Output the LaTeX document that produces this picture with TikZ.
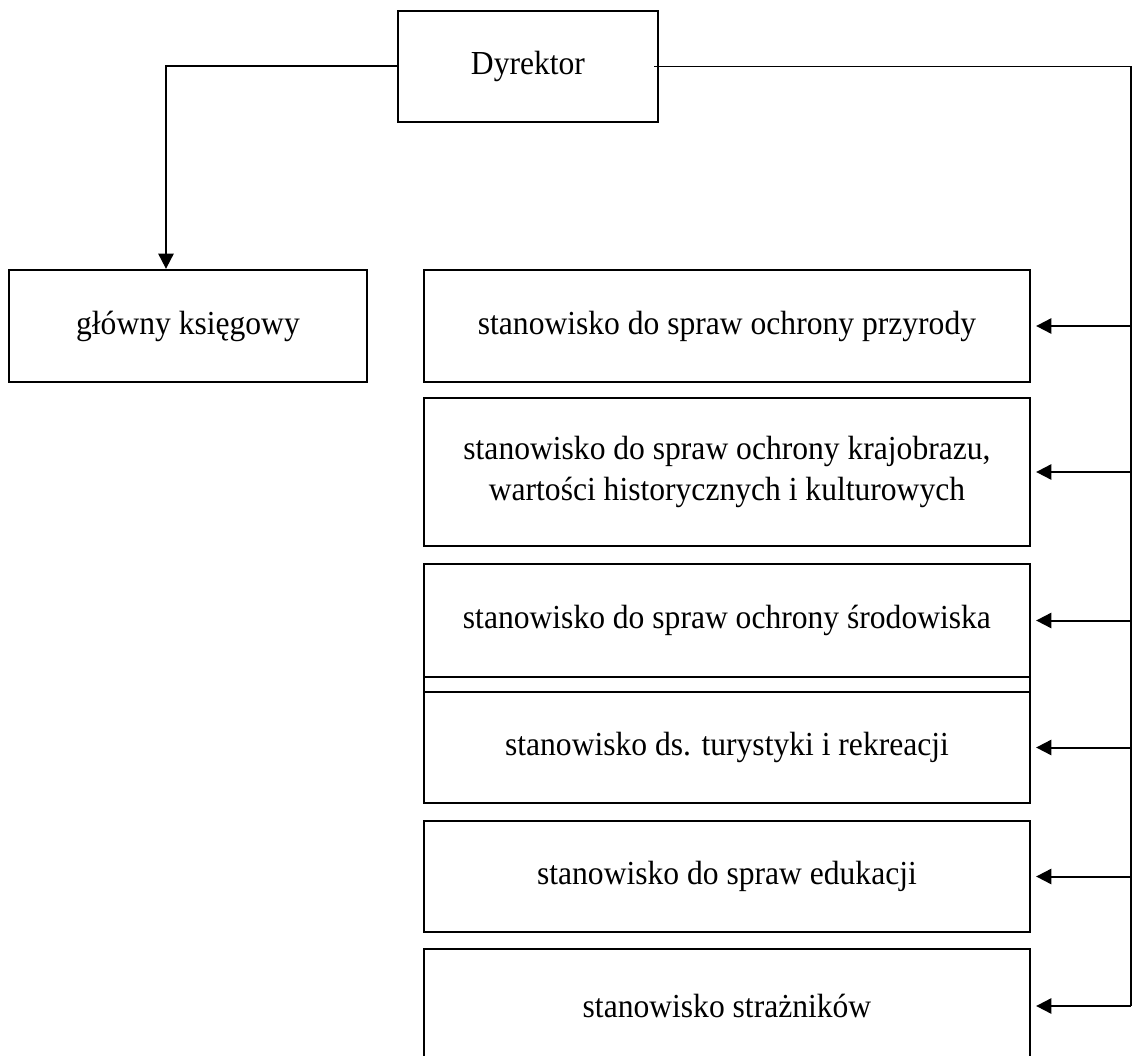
\documentclass[tikz,border=0pt]{standalone}
\usepackage{fontspec}
\setmainfont{Liberation Serif}[FakeStretch=0.94]
\usetikzlibrary{arrows.meta}
\begin{document}
\begin{tikzpicture}[x=0.75pt,y=-0.75pt,
  box/.style={draw,line width=1.7pt,inner sep=0pt,align=center,
    font=\fontsize{25.2}{31}\selectfont,minimum width=454.5pt},
  conn/.style={line width=1.5pt},
  arr/.style={conn,-{Triangle[length=11.5pt,width=11.5pt]}}]
\useasboundingbox (0,0) rectangle (1133,1056);
\node[box,minimum width=195pt,minimum height=83.25pt] (dyr) at (528,66.5) {Dyrektor};
\node[box,minimum width=268.5pt,minimum height=84pt] (gk) at (188,326) {główny księgowy};
\node[box,minimum height=84pt] (b1) at (727,326) {stanowisko do spraw ochrony przyrody};
\node[box,minimum height=111pt] (b2) at (727,472) {stanowisko do spraw ochrony krajobrazu,\\wartości historycznych i kulturowych};
\node[box,minimum height=84.75pt] (b3) at (727,620.5) {stanowisko do spraw ochrony środowiska};
\node[box,minimum height=11.25pt] (strip) at (727,684.5) {};
\node[box,minimum height=83.25pt] (b4) at (727,747.5) {stanowisko ds. turystyki i rekreacji};
\node[box,minimum height=83.25pt] (b5) at (727,876.5) {stanowisko do spraw edukacji};
\node[box,minimum height=85.5pt] (b6) at (727,1006) {stanowisko strażników};
\coordinate (trunkx) at (1131,0);
\coordinate (trunk) at (trunkx |- dyr.east);
\coordinate (trunkend) at (trunkx |- b6.east);
\draw[arr] (dyr.west) -| ([xshift=-16.5pt]gk.north);
\draw[conn,line width=1.2pt] ([xshift=-3.75pt]dyr.east) -- (trunk) -- (trunkend);
\foreach \b in {b1,b2,b3,b4,b5,b6}
  \draw[arr] (trunk |- \b.east) -- ([xshift=3.75pt]\b.east);
\end{tikzpicture}
\end{document}
